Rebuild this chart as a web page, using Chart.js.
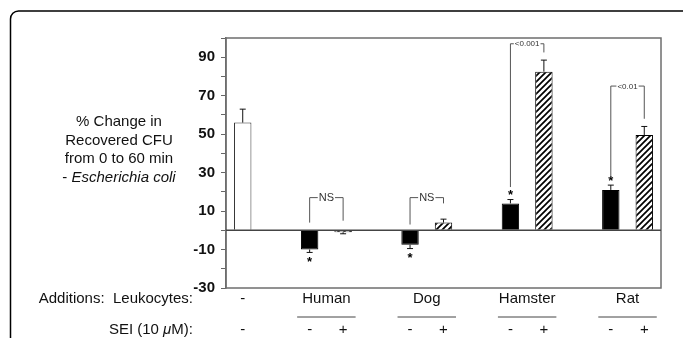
<!DOCTYPE html>
<html>
<head>
<meta charset="utf-8">
<script src="https://cdn.jsdelivr.net/npm/chart.js@4/dist/chart.umd.min.js"></script>
<style>
  html, body { margin: 0; padding: 0; background: #fff; }
</style>
</head>
<body>
<canvas id="myChart" width="683" height="338"></canvas>
<script>
// data
const leukocytes = ['Human', 'Dog', 'Hamster', 'Rat'];
const controlValue = 56;
const controlError = 7;
const minusSEI = [-10, -7.5, 14, 21];
const minusSEIError = [1.5, 2, 2, 2.5];
const plusSEI = [-1, 4, 82.5, 49.5];
const plusSEIError = [0.8, 1.8, 6, 4.5];
const minusStarred = [true, true, true, true];
const pLabels = ['NS', 'NS', '<0.001', '<0.01'];
// bracket heights in y units: top, left foot, right foot
const bracketTop = [17, 17, 97, 75];
const bracketLeftFoot = [4, 3, 22.5, 27.5];
const bracketRightFoot = [5, 14, 92.5, 58];
const yTicksMin = -30;
const yTicksMax = 100;

const FONT = '"Liberation Sans", Arial, sans-serif';

// 13 slots: control, gap, then (minus, plus, gap) per species
const slots = ['Control'];
const controlData = [controlValue];
const minusData = [null];
const plusData = [null];
const controlErr = [controlError];
const minusErr = [null];
const plusErr = [null];
leukocytes.forEach(function (name, i) {
  slots.push('', name + ' -', name + ' +');
  controlData.push(null, null, null);
  minusData.push(null, minusSEI[i], null);
  plusData.push(null, null, plusSEI[i]);
  controlErr.push(null, null, null);
  minusErr.push(null, minusSEIError[i], null);
  plusErr.push(null, null, plusSEIError[i]);
});
function minusSlot(i) { return 2 + 3 * i; }
function plusSlot(i) { return 3 + 3 * i; }

// diagonal hatch
var tile = document.createElement('canvas');
tile.width = 6; tile.height = 6;
var t = tile.getContext('2d');
t.fillStyle = '#fff';
t.fillRect(0, 0, 6, 6);
t.strokeStyle = '#000';
t.lineWidth = 1.7;
t.beginPath();
t.moveTo(-1, 7); t.lineTo(7, -1);
t.moveTo(-4, 4); t.lineTo(4, -4);
t.moveTo(2, 10); t.lineTo(10, 2);
t.stroke();
var ctx = document.getElementById('myChart').getContext('2d');
var hatch = ctx.createPattern(tile, 'repeat');

function line(c, x1, y1, x2, y2) {
  c.beginPath();
  c.moveTo(x1, y1);
  c.lineTo(x2, y2);
  c.stroke();
}

var overlay = {
  id: 'overlay',
  afterDraw: function (chart) {
    var c = chart.ctx;
    var a = chart.chartArea;
    var xs = chart.scales.x;
    var ys = chart.scales.y;
    c.save();

    // outer frame
    c.strokeStyle = '#000';
    c.lineWidth = 1.5;
    c.beginPath();
    c.moveTo(10.5, 345);
    c.lineTo(10.5, 19);
    c.arcTo(10.5, 11, 18.5, 11, 8);
    c.lineTo(683, 11);
    c.stroke();

    // plot box
    c.strokeStyle = '#6e6e6e';
    c.lineWidth = 1.5;
    c.strokeRect(a.left, a.top, a.right - a.left, a.bottom - a.top);

    // zero line
    var y0 = ys.getPixelForValue(0);
    c.strokeStyle = '#444';
    line(c, a.left, y0, a.right, y0);

    // error bars
    c.strokeStyle = '#111';
    c.lineWidth = 1;
    var errs = [controlErr, minusErr, plusErr];
    chart.data.datasets.forEach(function (ds, d) {
      var meta = chart.getDatasetMeta(d);
      ds.data.forEach(function (v, i) {
        if (v === null) return;
        var x = meta.data[i].x;
        var e = errs[d][i];
        var yv = ys.getPixelForValue(v);
        var ye = ys.getPixelForValue(v + (v < 0 ? -e : e));
        line(c, x, yv, x, ye);
        line(c, x - 3, ye, x + 3, ye);
      });
    });

    // asterisks
    c.fillStyle = '#000';
    c.font = 'bold 13px ' + FONT;
    c.textAlign = 'center';
    c.textBaseline = 'alphabetic';
    minusSEI.forEach(function (v, i) {
      if (!minusStarred[i]) return;
      var x = xs.getPixelForValue(minusSlot(i));
      var ye = ys.getPixelForValue(v + (v < 0 ? -minusSEIError[i] : minusSEIError[i]));
      var yc = v < 0 ? ye + 6 : ye - 8;
      c.fillText('*', x, yc + 7.5);
    });

    // significance brackets
    c.strokeStyle = '#555';
    c.lineWidth = 1;
    pLabels.forEach(function (lab, i) {
      var x1 = xs.getPixelForValue(minusSlot(i));
      var x2 = xs.getPixelForValue(plusSlot(i));
      var yt = ys.getPixelForValue(bracketTop[i]);
      var yl = ys.getPixelForValue(bracketLeftFoot[i]);
      var yr = ys.getPixelForValue(bracketRightFoot[i]);
      var size = lab === 'NS' ? 11 : 8;
      c.font = size + 'px ' + FONT;
      var w = c.measureText(lab).width;
      var mid = (x1 + x2) / 2;
      c.beginPath();
      c.moveTo(x1, yl); c.lineTo(x1, yt); c.lineTo(mid - w / 2 - 1, yt);
      c.moveTo(mid + w / 2 + 1, yt); c.lineTo(x2, yt); c.lineTo(x2, yr);
      c.stroke();
      c.fillStyle = '#333';
      c.textBaseline = 'middle';
      c.fillText(lab, mid, yt + 0.5);
    });

    // rows under the axis
    var r1 = a.bottom + 11, rl = a.bottom + 29, r2 = a.bottom + 42;
    c.fillStyle = '#111';
    c.font = '15px ' + FONT;
    c.textBaseline = 'middle';
    c.textAlign = 'center';
    var xc = xs.getPixelForValue(0);
    c.fillText('-', xc, r1);
    c.fillText('-', xc, r2);
    c.strokeStyle = '#444';
    leukocytes.forEach(function (name, i) {
      var x1 = xs.getPixelForValue(minusSlot(i));
      var x2 = xs.getPixelForValue(plusSlot(i));
      c.fillText(name, (x1 + x2) / 2, r1);
      c.fillText('-', x1, r2);
      c.fillText('+', x2, r2);
      line(c, x1 - 12.5, rl, x2 + 12.5, rl);
    });

    c.textAlign = 'right';
    c.fillText('Additions:  Leukocytes:', 193, r1);
    var tail = 'M):';
    c.fillText(tail, 193, r2);
    var wt = c.measureText(tail).width;
    c.font = 'italic 15px ' + FONT;
    c.fillText('\u03bc', 193 - wt, r2);
    var wm = c.measureText('\u03bc').width;
    c.font = '15px ' + FONT;
    c.fillText('SEI (10 ', 193 - wt - wm, r2);

    // y axis title
    c.textAlign = 'center';
    var tx = 119;
    c.fillText('% Change in', tx, 122);
    c.fillText('Recovered CFU', tx, 140.5);
    c.fillText('from 0 to 60 min', tx, 159);
    var pre = '- ';
    var it = 'Escherichia coli';
    var wp = c.measureText(pre).width;
    c.font = 'italic 15px ' + FONT;
    var wi = c.measureText(it).width;
    c.textAlign = 'left';
    c.fillText(it, tx - (wp + wi) / 2 + wp, 177.5);
    c.font = '15px ' + FONT;
    c.fillText(pre, tx - (wp + wi) / 2, 177.5);

    c.restore();
  }
};

var chart = new Chart(ctx, {
  type: 'bar',
  data: {
    labels: slots,
    datasets: [{
      label: 'No leukocytes',
      data: controlData,
      backgroundColor: '#fff',
      borderColor: '#333',
      borderWidth: 1,
      grouped: false
    }, {
      label: 'Leukocytes, no SEI',
      data: minusData,
      backgroundColor: '#000',
      borderColor: '#000',
      borderWidth: 1,
      grouped: false
    }, {
      label: 'Leukocytes + SEI',
      data: plusData,
      backgroundColor: hatch,
      borderColor: '#000',
      borderWidth: 1,
      grouped: false
    }]
  },
  options: {
    responsive: false,
    animation: false,
    barPercentage: 0.52,
    categoryPercentage: 1,
    layout: { padding: { left: 0, right: 22, top: 38, bottom: 50 } },
    plugins: {
      legend: { display: false },
      tooltip: { enabled: false }
    },
    scales: {
      x: { display: false },
      y: {
        min: yTicksMin,
        max: yTicksMax,
        afterFit: function (s) { s.width = 226; },
        ticks: {
          stepSize: 10,
          autoSkip: false,
          padding: 6,
          color: '#111',
          font: { family: FONT, size: 15, weight: 'bold' },
          callback: function (v) { return Math.abs(v) % 20 === 10 ? v : ''; }
        },
        grid: {
          drawOnChartArea: false,
          drawTicks: true,
          tickLength: 5,
          color: '#666'
        },
        border: { display: true, color: '#6e6e6e', width: 1.5 }
      }
    }
  },
  plugins: [overlay]
});
</script>
</body>
</html>
